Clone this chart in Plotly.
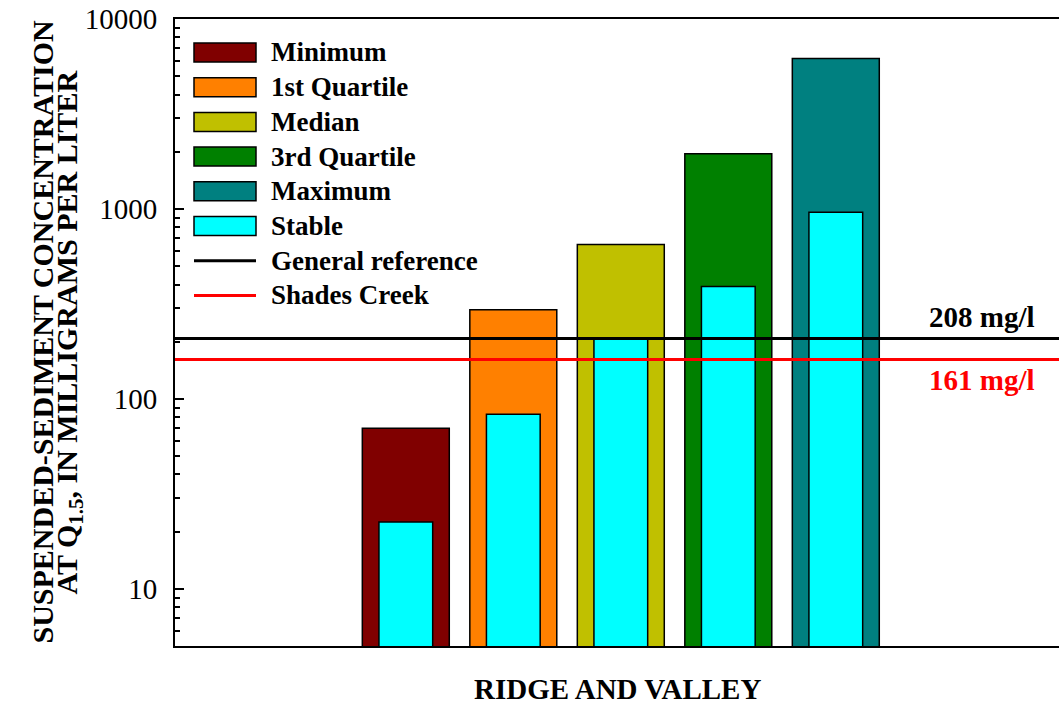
import numpy as np
import plotly.graph_objects as go

# --- data -------------------------------------------------------------
statistics = ["Minimum", "1st Quartile", "Median", "3rd Quartile", "Maximum"]
concentration = [70, 295, 650, 1950, 6200]      # mg/l, Ridge and Valley statistic
stable_concentration = [22.5, 83, 207, 390, 960]  # mg/l, stable sites
general_reference = 208   # mg/l
shades_creek = 161        # mg/l
y_tick_values = [10, 100, 1000, 10000]
y_tick_text = ["10", "100", "1000", "10000"]

# --- styling ------------------------------------------------------------
stat_colors = ["#800000", "#FF8000", "#C0C000", "#008000", "#008080"]
stable_color = "#00FFFF"
general_color = "#000000"
shades_color = "#FF0000"
SERIF = "Liberation Serif"

W, H = 1059, 703
L, R, T, B = 175, 0, 19, 57
plot_w = W - L - R
plot_h = H - T - B
slot = 107.5                    # px between bar centres
first_center = 405.8            # px of first bar centre
x_lo = -(first_center - L) / slot
x_hi = x_lo + plot_w / slot


def px(xp):
    return (xp - L) / plot_w


def py(yp):
    return (H - B - yp) / plot_h


fig = go.Figure()
idx = list(range(len(statistics)))

for i, (name, val, col) in enumerate(zip(statistics, concentration, stat_colors)):
    fig.add_trace(go.Bar(
        x=[idx[i]], y=[val], name=name, width=0.809,
        marker=dict(color=col, line=dict(color="#000000", width=1.5)),
        showlegend=False,
    ))

fig.add_trace(go.Bar(
    x=idx, y=stable_concentration, name="Stable", width=0.5,
    marker=dict(color=stable_color, line=dict(color="#000000", width=1.5)),
    showlegend=False,
))

# reference lines across the plot
fig.add_shape(type="line", xref="paper", yref="y", x0=0, x1=1,
              y0=general_reference, y1=general_reference,
              line=dict(color=general_color, width=3), layer="above")
fig.add_shape(type="line", xref="paper", yref="y", x0=0, x1=1,
              y0=shades_creek, y1=shades_creek,
              line=dict(color=shades_color, width=3), layer="above")

fig.add_annotation(xref="paper", yref="y", x=px(1037), y=np.log10(general_reference),
                   text=f"{general_reference} mg/l", showarrow=False,
                   xanchor="right", yanchor="bottom", yshift=3,
                   font=dict(family=SERIF, size=29, color=general_color, weight="bold"))
fig.add_annotation(xref="paper", yref="y", x=px(1037), y=np.log10(shades_creek),
                   text=f"{shades_creek} mg/l", showarrow=False,
                   xanchor="right", yanchor="top", yshift=-2,
                   font=dict(family=SERIF, size=29, color=shades_color, weight="bold"))

# --- legend drawn as shapes + text ----------------------------------------
legend_names = statistics + ["Stable", "General reference", "Shades Creek"]
legend_kinds = ["box"] * 6 + ["line", "line"]
legend_colors = stat_colors + [stable_color, general_color, shades_color]
row0, row_step = 52.5, 34.7
for k, (name, kind, col) in enumerate(zip(legend_names, legend_kinds, legend_colors)):
    cy = row0 + k * row_step
    if kind == "box":
        fig.add_shape(type="rect", xref="paper", yref="paper",
                      x0=px(194), x1=px(256), y0=py(cy - 9.5), y1=py(cy + 9.5),
                      fillcolor=col, line=dict(color="#000000", width=1.5))
    else:
        fig.add_shape(type="line", xref="paper", yref="paper",
                      x0=px(194), x1=px(256), y0=py(cy), y1=py(cy),
                      line=dict(color=col, width=3))
    fig.add_annotation(xref="paper", yref="paper", x=px(269), y=py(cy),
                       text=name, showarrow=False, xanchor="left", yanchor="middle",
                       font=dict(family=SERIF, size=27, color="#000000", weight="bold"))

# --- axis titles --------------------------------------------------------
title_font = dict(family=SERIF, size=30, color="#000000", weight="bold")
fig.add_annotation(xref="paper", yref="paper", x=px(42), y=0.5,
                   text="SUSPENDED-SEDIMENT CONCENTRATION", textangle=-90,
                   showarrow=False, xanchor="center", yanchor="middle", font=title_font)
fig.add_annotation(xref="paper", yref="paper", x=px(68), y=0.5,
                   text="AT Q<sub>1.5</sub>, IN MILLIGRAMS PER LITER", textangle=-90,
                   showarrow=False, xanchor="center", yanchor="middle", font=title_font)
fig.add_annotation(xref="paper", yref="paper", x=0.5, y=py(688.5),
                   text="RIDGE AND VALLEY", showarrow=False,
                   xanchor="center", yanchor="middle",
                   font=dict(family=SERIF, size=29, color="#000000", weight="bold"))

minor_vals = [m * 10 ** d for d in range(0, 4) for m in range(2, 10) if 5 <= m * 10 ** d <= 10000]

fig.update_layout(
    width=W, height=H,
    margin=dict(l=L, r=R, t=T, b=B, pad=0),
    paper_bgcolor="white", plot_bgcolor="white",
    barmode="overlay",
    showlegend=False,
    font=dict(family=SERIF, color="#000000"),
    xaxis=dict(range=[x_lo, x_hi], showticklabels=False, ticks="",
               showgrid=False, zeroline=False,
               showline=True, mirror=True, linecolor="#000000", linewidth=2),
    yaxis=dict(type="log", range=[np.log10(5), 4],
               tickvals=y_tick_values, ticktext=y_tick_text,
               ticks="inside", ticklen=9, tickwidth=2, tickcolor="#000000",
               ticklabelstandoff=10,
               tickfont=dict(family=SERIF, size=29, color="#000000"),
               minor=dict(tickvals=minor_vals, ticks="inside", ticklen=5,
                          tickwidth=2, tickcolor="#000000", showgrid=False),
               showgrid=False, zeroline=False,
               showline=True, linecolor="#000000", linewidth=2),
)

fig.write_html("out.html")
